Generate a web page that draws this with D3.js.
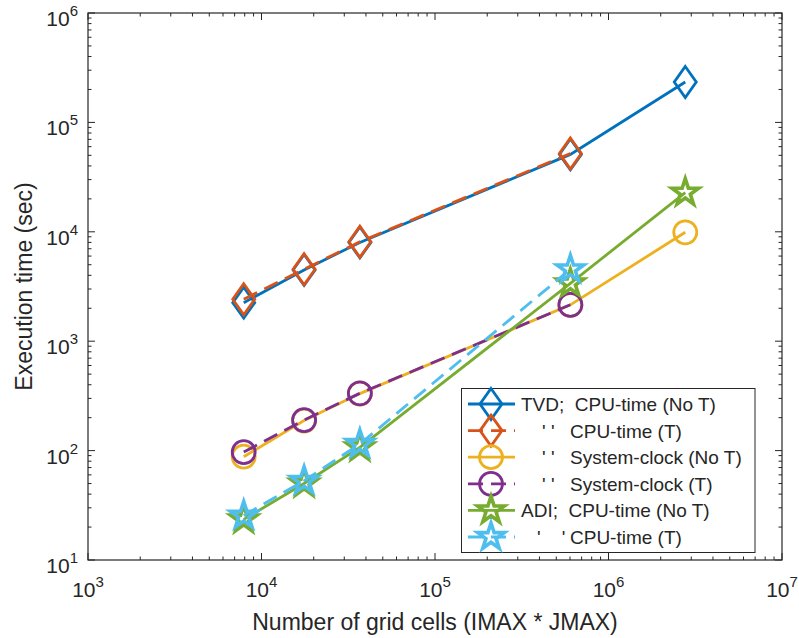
<!DOCTYPE html>
<html>
<head>
<meta charset="utf-8">
<script src="https://cdn.jsdelivr.net/npm/d3@7"></script>
<style>
  body { margin: 0; background: #fff; }
  svg { display: block; font-family: "Liberation Sans", Arial, sans-serif; }
</style>
</head>
<body>
<div id="chart"></div>
<script>
// grid sizes (IMAX * JMAX)
const gridCells = [7900, 17600, 36900, 603000, 2770000];

// execution times (sec)
const tvdCpuNoT = [2250, 4480, 8000, 51000, 234000];
const tvdCpuT = [2420, 4550, 8110, 52000];
const tvdSysNoT = [88, 188, 332, 2150, 9900];
const tvdSysT = [97, 190, 334, 2150];
const adiCpuNoT = [23.5, 50, 107, 3380, 22800];
const adiCpuT = [25.5, 53, 115, 4540];

const legendLabels = [
  ['TVD;  CPU-time (No T)'],
  ["' '", 'CPU-time (T)'],
  ["' '", 'System-clock (No T)'],
  ["' '", 'System-clock (T)'],
  ['ADI;  CPU-time (No T)'],
  ["'    '", 'CPU-time (T)']
];

const xDecades = [1e3, 1e4, 1e5, 1e6, 1e7];
const yDecades = [1e1, 1e2, 1e3, 1e4, 1e5, 1e6];

let width = 799, height = 638;
let m = { left: 88, right: 782, top: 13, bottom: 560 };
let ink = '#262626';

let series = [
  { vals: tvdCpuNoT, color: '#0072BD', dash: null, marker: 'diamond' },
  { vals: tvdCpuT, color: '#D95319', dash: '15,8', marker: 'diamond' },
  { vals: tvdSysNoT, color: '#EDB120', dash: null, marker: 'circle' },
  { vals: tvdSysT, color: '#7E2F8E', dash: '15,8', marker: 'circle' },
  { vals: adiCpuNoT, color: '#77AC30', dash: null, marker: 'star' },
  { vals: adiCpuT, color: '#4DBEEE', dash: '15,8', marker: 'star' }
];

let x = d3.scaleLog().domain([1e3, 1e7]).range([m.left, m.right]);
let y = d3.scaleLog().domain([1e1, 1e6]).range([m.bottom, m.top]);

let svg = d3.select('#chart').append('svg')
  .attr('width', width)
  .attr('height', height);

// marker paths
function markerPath(type) {
  if (type === 'diamond') {
    return 'M0,-15.5L11,0L0,15.5L-11,0Z';
  }
  if (type === 'circle') {
    return d3.symbol().type(d3.symbolCircle).size(Math.PI * 11.5 * 11.5)();
  }
  // five pointed star, outer radius 14
  let p = d3.path();
  let R = 14, r = R * 0.382;
  for (let i = 0; i < 10; i++) {
    let a = -Math.PI / 2 + i * Math.PI / 5;
    let rr = i % 2 === 0 ? R : r;
    if (i === 0) p.moveTo(rr * Math.cos(a), rr * Math.sin(a));
    else p.lineTo(rr * Math.cos(a), rr * Math.sin(a));
  }
  p.closePath();
  return p.toString();
}
let markerWidth = { diamond: 2.8, circle: 2.8, star: 3.6 };

// ticks on all four sides, pointing inward
let xMinor = x.ticks().filter(v => xDecades.indexOf(v) < 0);
let yMinor = y.ticks().filter(v => yDecades.indexOf(v) < 0);

let tickG = svg.append('g').attr('stroke', ink).attr('stroke-width', 1);
[[m.bottom, -1], [m.top, 1]].forEach(function(side) {
  tickG.selectAll(null).data(xDecades).enter().append('line')
    .attr('x1', d => x(d)).attr('x2', d => x(d))
    .attr('y1', side[0]).attr('y2', side[0] + side[1] * 7);
  tickG.selectAll(null).data(xMinor).enter().append('line')
    .attr('x1', d => x(d)).attr('x2', d => x(d))
    .attr('y1', side[0]).attr('y2', side[0] + side[1] * 3.5);
});
[[m.left, 1], [m.right, -1]].forEach(function(side) {
  tickG.selectAll(null).data(yDecades).enter().append('line')
    .attr('y1', d => y(d)).attr('y2', d => y(d))
    .attr('x1', side[0]).attr('x2', side[0] + side[1] * 7);
  tickG.selectAll(null).data(yMinor).enter().append('line')
    .attr('y1', d => y(d)).attr('y2', d => y(d))
    .attr('x1', side[0]).attr('x2', side[0] + side[1] * 3.5);
});

svg.append('rect')
  .attr('x', m.left).attr('y', m.top)
  .attr('width', m.right - m.left).attr('height', m.bottom - m.top)
  .attr('fill', 'none').attr('stroke', ink).attr('stroke-width', 1.2);

// tick labels with superscript exponent
function powLabel(g, v) {
  let t = g.append('text').attr('fill', ink).style('font-size', '21px');
  t.append('tspan').text('10');
  t.append('tspan').attr('dy', -10).style('font-size', '15px')
    .text(Math.round(Math.log10(v)));
  return t;
}

let xLab = svg.append('g');
xDecades.forEach(function(v) {
  powLabel(xLab, v).attr('x', x(v)).attr('y', 597).attr('text-anchor', 'middle');
});
let yLab = svg.append('g');
yDecades.forEach(function(v) {
  powLabel(yLab, v).attr('x', 78).attr('y', y(v) + 13).attr('text-anchor', 'end');
});

svg.append('text')
  .attr('x', (m.left + m.right) / 2).attr('y', 630)
  .attr('text-anchor', 'middle').attr('fill', ink)
  .style('font-size', '23px')
  .text('Number of grid cells (IMAX * JMAX)');

svg.append('text')
  .attr('transform', 'translate(32,' + ((m.top + m.bottom) / 2) + ') rotate(-90)')
  .attr('text-anchor', 'middle').attr('fill', ink)
  .style('font-size', '23px')
  .text('Execution time (sec)');

// series lines and markers
let line = d3.line()
  .x(d => x(d[0]))
  .y(d => y(d[1]));

let plot = svg.append('g');
series.forEach(function(s) {
  let pts = s.vals.map((v, i) => [gridCells[i], v]);
  let g = plot.append('g');
  g.append('path')
    .datum(pts)
    .attr('d', line)
    .attr('fill', 'none')
    .attr('stroke', s.color)
    .attr('stroke-width', 2.8)
    .attr('stroke-dasharray', s.dash);
  g.selectAll('.mk').data(pts).enter().append('path')
    .attr('class', 'mk')
    .attr('transform', d => 'translate(' + x(d[0]) + ',' + y(d[1]) + ')')
    .attr('d', markerPath(s.marker))
    .attr('fill', 'none')
    .attr('stroke', s.color)
    .attr('stroke-width', markerWidth[s.marker]);
});

// legend
let leg = svg.append('g');
leg.append('rect')
  .attr('x', 461.5).attr('y', 388.5)
  .attr('width', 293.5).attr('height', 164)
  .attr('fill', '#fff').attr('stroke', ink).attr('stroke-width', 1);

let rowY = d3.scaleLinear().domain([0, 5]).range([404, 537]);
series.forEach(function(s, i) {
  let ry = rowY(i);
  leg.append('line')
    .attr('x1', 468).attr('x2', 515)
    .attr('y1', ry).attr('y2', ry)
    .attr('stroke', s.color).attr('stroke-width', 2.8)
    .attr('stroke-dasharray', s.dash);
  leg.append('path')
    .attr('transform', 'translate(491,' + ry + ')')
    .attr('d', markerPath(s.marker))
    .attr('fill', 'none').attr('stroke', s.color)
    .attr('stroke-width', markerWidth[s.marker]);
  let lab = legendLabels[i];
  if (lab.length === 1) {
    leg.append('text').attr('x', 521).attr('y', ry + 7)
      .attr('fill', ink).style('font-size', '19px')
      .style('white-space', 'pre').text(lab[0]);
  } else {
    leg.append('text').attr('x', i === 5 ? 537 : 542).attr('y', ry + 7)
      .attr('fill', ink).style('font-size', '19px')
      .style('white-space', 'pre')
      .text(lab[0]);
    leg.append('text').attr('x', 570).attr('y', ry + 7)
      .attr('fill', ink).style('font-size', '19px').text(lab[1]);
  }
});
</script>
</body>
</html>
